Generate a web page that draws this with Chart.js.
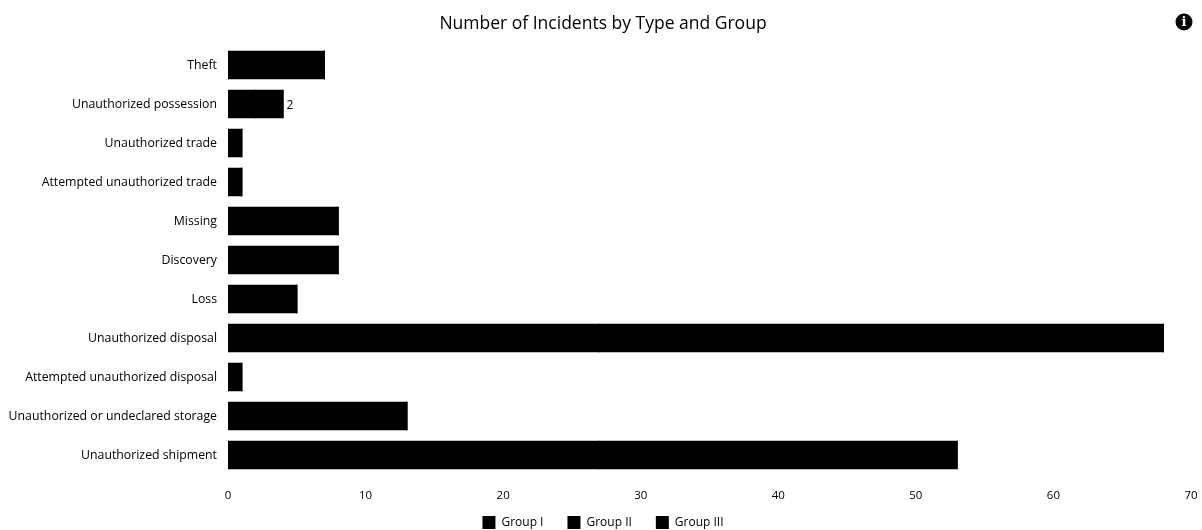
<!DOCTYPE html>
<html>
<head>
<meta charset="utf-8">
<style>
  html, body { margin: 0; padding: 0; background: #fff; }
  #wrap { position: relative; width: 1202px; height: 530px; }
</style>
<script src="https://cdn.jsdelivr.net/npm/chart.js@4/dist/chart.umd.min.js"></script>
</head>
<body>
<div id="wrap"><canvas id="c" width="1202" height="530"></canvas></div>
<script>
const categories = [
  "Theft", "Unauthorized possession", "Unauthorized trade",
  "Attempted unauthorized trade", "Missing", "Discovery", "Loss",
  "Unauthorized disposal", "Attempted unauthorized disposal",
  "Unauthorized or undeclared storage", "Unauthorized shipment"
];
const groupOne   = [7, 2, 1, 1, 8, 8, 5, 27, 1, 13, 27];
const groupTwo   = [0, 2, 0, 0, 0, 0, 0, 41, 0, 0, 26];
const groupThree = [0, 0, 0, 0, 0, 0, 0, 0, 0, 0, 0];
const seriesNames = ["Group I", "Group II", "Group III"];
const xTicks = [0, 10, 20, 30, 40, 50, 60, 70];
const ink = "#000000";
const fontFamily = "'Open Sans', 'Noto Sans', sans-serif";

// Writes the second segment's value just past the short "possession" bar.
const pointLabel = {
  id: "pointLabel",
  afterDatasetsDraw(chart) {
    const bar = chart.getDatasetMeta(1).data[1];
    const ctx = chart.ctx;
    ctx.save();
    ctx.fillStyle = ink;
    ctx.font = "12px " + fontFamily;
    ctx.textAlign = "left";
    ctx.textBaseline = "middle";
    ctx.fillText(String(groupTwo[1]), bar.x + 3.5, bar.y + 2);
    ctx.restore();
  }
};

// Info badge in the top right corner.
const infoBadge = {
  id: "infoBadge",
  afterDraw(chart) {
    const ctx = chart.ctx;
    ctx.save();
    ctx.fillStyle = ink;
    ctx.beginPath();
    ctx.arc(1184, 22, 8.5, 0, Math.PI * 2);
    ctx.fill();
    ctx.fillStyle = "#fff";
    ctx.font = "bold 13px 'DejaVu Serif', serif";
    ctx.textAlign = "center";
    ctx.textBaseline = "middle";
    ctx.fillText("i", 1184, 22.5);
    ctx.restore();
  }
};

// Keeps the legend strip compact despite the wide spacing between its items:
// it reserves less room than its padding implies and is drawn slightly higher.
const legendLift = 12.5;
const compactLegend = {
  id: "compactLegend",
  afterInit(chart) {
    const legend = chart.legend;
    const fit = legend.fit;
    const draw = legend.draw;
    legend.fit = function () {
      fit.call(this);
      this.height = 25.5;
    };
    legend.draw = function () {
      const bottom = this.bottom;
      this.bottom = bottom + legendLift;
      chart.ctx.save();
      chart.ctx.translate(0, -legendLift);
      draw.call(this);
      chart.ctx.restore();
      this.bottom = bottom;
    };
  }
};

new Chart(document.getElementById("c"), {
  type: "bar",
  data: {
    labels: categories,
    datasets: [
      { label: seriesNames[0], data: groupOne, backgroundColor: ink },
      { label: seriesNames[1], data: groupTwo, backgroundColor: ink },
      { label: seriesNames[2], data: groupThree, backgroundColor: ink }
    ]
  },
  options: {
    indexAxis: "y",
    responsive: false,
    animation: false,
    layout: { padding: { left: 4, right: 0, top: 0, bottom: 0 } },
    datasets: { bar: { categoryPercentage: 0.7, barPercentage: 1, inflateAmount: 0.5 } },
    plugins: {
      tooltip: { enabled: false },
      title: {
        display: true,
        text: "Number of Incidents by Type and Group",
        color: ink,
        font: { family: fontFamily, size: 17.5, weight: "normal" },
        padding: { top: 13.5, bottom: 11 }
      },
      legend: {
        position: "bottom",
        labels: {
          color: ink,
          boxWidth: 13,
          boxHeight: 13,
          padding: 24,
          font: { family: fontFamily, size: 12 }
        }
      }
    },
    scales: {
      x: {
        stacked: true,
        min: 0,
        max: 70,
        afterBuildTicks(axis) { axis.ticks = xTicks.map(value => ({ value })); },
        afterFit(axis) {
          axis.height = 30;
          axis.paddingLeft = 0;
          axis.paddingRight = 11;
        },
        grid: { display: false },
        border: { display: false },
        ticks: { color: ink, padding: 6, maxRotation: 0, font: { family: fontFamily, size: 11.5 } }
      },
      y: {
        stacked: true,
        afterFit(axis) { axis.width = 224; },
        grid: { display: false },
        border: { display: false },
        ticks: { color: ink, padding: 3, autoSkip: false, font: { family: fontFamily, size: 12.3 } }
      }
    }
  },
  plugins: [pointLabel, infoBadge, compactLegend]
});
</script>
</body>
</html>
